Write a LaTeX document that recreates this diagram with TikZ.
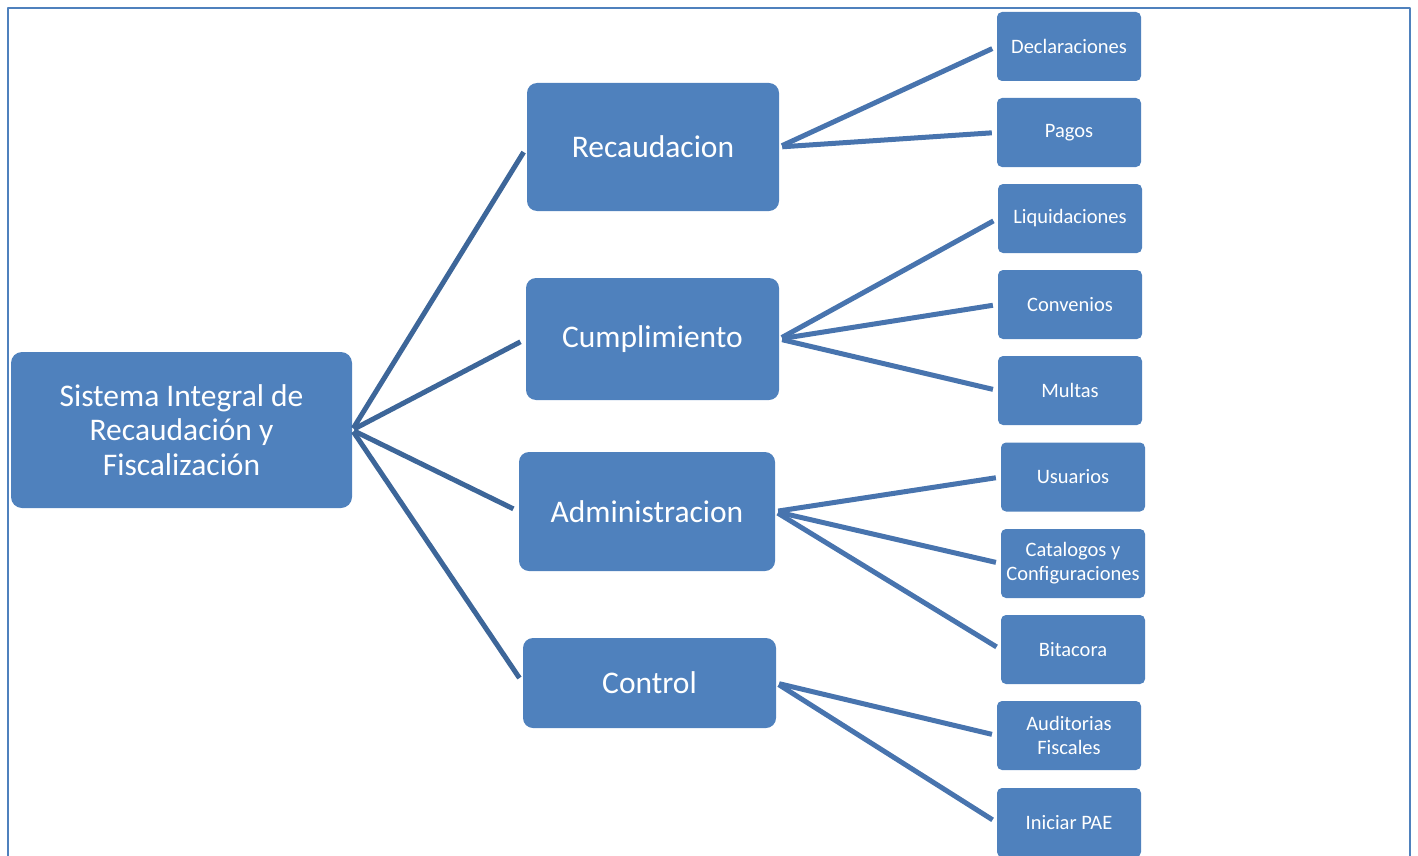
\documentclass[tikz,border=0pt]{standalone}
\usepackage{fontspec}
\setmainfont{Carlito}
\usepackage{tikz}
\usetikzlibrary{positioning}
\usepackage{xcolor}
\definecolor{boxblue}{HTML}{4F81BD}
\definecolor{linkdark}{HTML}{3D6699}
\definecolor{linkblue}{HTML}{4874AE}

\tikzset{
  topbox/.style={fill=boxblue, text=white, rounded corners=11pt, align=center,
    inner sep=0pt, font=\fontsize{31.5}{34.5}\selectfont},
  midbox/.style={fill=boxblue, text=white, rounded corners=10pt, align=center,
    inner sep=0pt, font=\fontsize{31.5}{36}\selectfont},
  leafbox/.style={fill=boxblue, text=white, rounded corners=5pt, align=center,
    inner sep=0pt, minimum width=144pt, minimum height=69pt,
    font=\fontsize{20.5}{24}\selectfont},
  rootlink/.style={draw=linkdark, line width=5pt, shorten >=6pt, shorten <=2pt},
  leaflink/.style={draw=linkblue, line width=5pt, shorten >=5pt, shorten <=3pt}
}

\begin{document}
\begin{tikzpicture}[x=1pt, y=-1pt, line cap=butt, line join=round]
            \useasboundingbox (0,0) rectangle (1418,856);

            % outer frame
            \draw[boxblue, line width=2pt] (8,870) -- (8,8) -- (1410,8) -- (1410,870);

            % root
            \node[topbox, minimum width=341pt, minimum height=156pt] (root) at (181.5,430) {Sistema Integral de\\Recaudación y\\Fiscalización};

            % second level
            \node[midbox, minimum width=252pt, minimum height=128pt] (rec) at (653,147) {Recaudacion};
            \node[midbox, minimum width=253pt, minimum height=122pt] (cum) at (652.5,339) {Cumplimiento};
            \node[midbox, minimum width=256pt, minimum height=119pt] (adm) at (647,511.5) {Administracion};
            \node[midbox, minimum width=253pt, minimum height=90pt] (con) at (649.5,683) {Control};

            % leaves
            \node[leafbox] (dec) at (1069,46.5) {Declaraciones};
            \node[leafbox] (pag) at (1069,132.5) {Pagos};
            \node[leafbox] (liq) at (1070,218.5) {Liquidaciones};
            \node[leafbox] (cnv) at (1070,304.5) {Convenios};
            \node[leafbox] (mul) at (1070,390.5) {Multas};
            \node[leafbox] (usu) at (1073,477) {Usuarios};
            \node[leafbox] (cat) at (1073,563.5) {Catalogos y\\Configuraciones};
            \node[leafbox] (bit) at (1073,649.5) {Bitacora};
            \node[leafbox] (aud) at (1069,735.5) {Auditorias\\Fiscales};
            \node[leafbox] (pae) at (1069,822.5) {Iniciar PAE};

            % root links
            \foreach \m in {rec,cum,adm,con}
              \draw[rootlink] (root.east) -- (\m.west);

            % leaf links
            \foreach \m/\l in {rec/dec,rec/pag,cum/liq,cum/cnv,cum/mul,adm/usu,adm/cat,adm/bit,con/aud,con/pae}
              \draw[leaflink] (\m.east) -- (\l.west);
        \end{tikzpicture}
\end{document}
